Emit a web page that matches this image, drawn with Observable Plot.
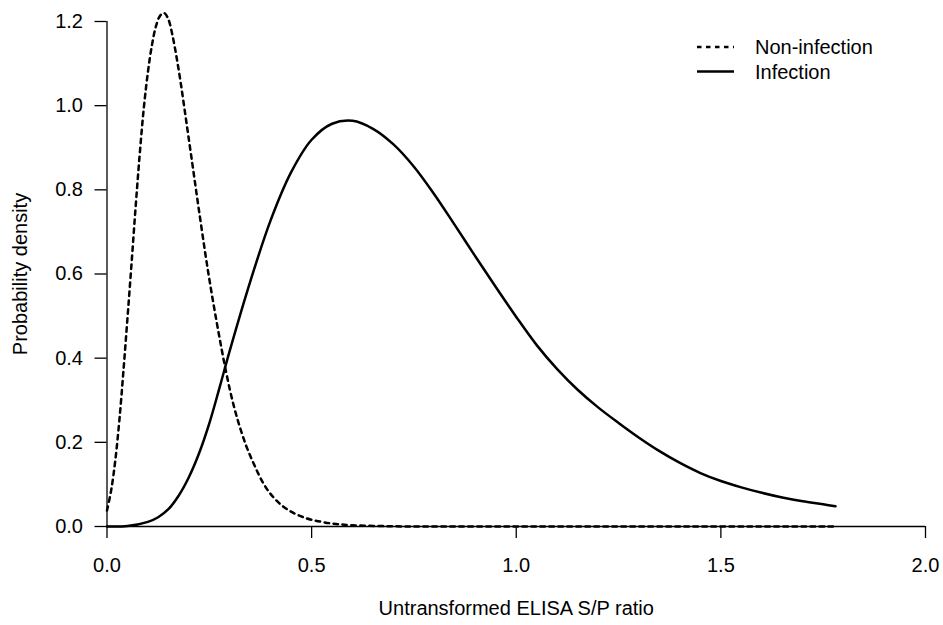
<!DOCTYPE html>
<html>
<head>
<meta charset="utf-8">
<script src="https://cdn.jsdelivr.net/npm/d3@7"></script>
<script src="https://cdn.jsdelivr.net/npm/@observablehq/plot@0.6"></script>
<style>
  body { margin: 0; background: #fff; }
  #wrap { position: relative; width: 943px; height: 625px; font-family: "Liberation Sans", Arial, Helvetica, sans-serif; }
  #legend { position: absolute; left: 0; top: 0; pointer-events: none; }
</style>
</head>
<body>
<div id="wrap"></div>
<script>
// ---- Data ----
const seriesNames = ["Non-infection", "Infection"];

const nonInfX = [0.00, 0.01, 0.02, 0.03, 0.04, 0.05, 0.06, 0.07, 0.08, 0.09, 0.10, 0.11, 0.12, 0.13, 0.14, 0.15, 0.16, 0.17, 0.18, 0.19, 0.20, 0.21, 0.22, 0.23, 0.24, 0.25, 0.26, 0.27, 0.28, 0.29, 0.30, 0.31, 0.32, 0.33, 0.34, 0.35, 0.36, 0.37, 0.38, 0.39, 0.40, 0.42, 0.44, 0.46, 0.48, 0.50, 0.55, 0.60, 0.70, 0.80, 1.00, 1.20, 1.40, 1.60, 1.78];
const nonInfY = [0.038, 0.085, 0.155, 0.250, 0.368, 0.495, 0.625, 0.760, 0.885, 0.995, 1.080, 1.145, 1.190, 1.214, 1.220, 1.205, 1.167, 1.115, 1.055, 0.988, 0.920, 0.852, 0.783, 0.716, 0.650, 0.588, 0.530, 0.475, 0.422, 0.372, 0.326, 0.286, 0.251, 0.220, 0.192, 0.168, 0.146, 0.125, 0.106, 0.090, 0.077, 0.056, 0.041, 0.030, 0.022, 0.016, 0.007, 0.003, 0.0005, 0.0, 0.0, 0.0, 0.0, 0.0, 0.0];

const infX = [0.00, 0.05, 0.10, 0.125, 0.15, 0.175, 0.20, 0.225, 0.25, 0.275, 0.30, 0.35, 0.40, 0.45, 0.50, 0.55, 0.60, 0.65, 0.70, 0.75, 0.80, 0.85, 0.90, 0.95, 1.00, 1.05, 1.10, 1.15, 1.20, 1.25, 1.30, 1.35, 1.40, 1.45, 1.50, 1.55, 1.60, 1.65, 1.70, 1.75, 1.78];
const infY = [0.000, 0.001, 0.011, 0.022, 0.041, 0.073, 0.117, 0.174, 0.245, 0.330, 0.418, 0.582, 0.728, 0.842, 0.919, 0.957, 0.964, 0.945, 0.908, 0.855, 0.789, 0.716, 0.642, 0.569, 0.498, 0.431, 0.374, 0.325, 0.283, 0.246, 0.211, 0.179, 0.151, 0.127, 0.108, 0.093, 0.080, 0.069, 0.060, 0.053, 0.048];

const xTicks = [0, 0.5, 1.0, 1.5, 2.0];
const yTicks = [0, 0.2, 0.4, 0.6, 0.8, 1.0, 1.2];
const xLabel = "Untransformed ELISA S/P ratio";
const yLabel = "Probability density";

// ---- Build tables ----
const nonInf = nonInfX.map((x, i) => ({x, y: nonInfY[i], s: seriesNames[0]}));
const inf = infX.map((x, i) => ({x, y: infY[i], s: seriesNames[1]}));
const xAxisLine = [{y: yTicks[0], x1: xTicks[0], x2: xTicks[xTicks.length - 1]}];
const yAxisLine = [{x: xTicks[0], y1: yTicks[0], y2: yTicks[yTicks.length - 1]}];

const dash = "4.5,4.5";
const lw = 2.5;
const fmt = d3.format(".1f");

const chart = Plot.plot({
  width: 943,
  height: 625,
  marginLeft: 106.5,
  marginRight: 18,
  marginTop: 21,
  marginBottom: 99,
  x: {domain: [xTicks[0], xTicks[xTicks.length - 1]]},
  y: {domain: [yTicks[0], yTicks[yTicks.length - 1]]},
  style: {fontFamily: "'Liberation Sans', Arial, Helvetica, sans-serif", fontSize: "20px", color: "#000", background: "#fff", overflow: "visible"},
  marks: [
    Plot.axisX({ticks: xTicks, tickSize: 12, tickPadding: 19, tickFormat: fmt, strokeWidth: 1.3,
      label: xLabel, labelAnchor: "center", labelOffset: 88, labelArrow: "none"}),
    Plot.axisY({ticks: yTicks, tickSize: 12, tickPadding: 12, tickFormat: fmt, strokeWidth: 1.3,
      label: yLabel, labelAnchor: "center", labelOffset: 94, labelArrow: "none"}),
    Plot.ruleY(xAxisLine, {y: "y", x1: "x1", x2: "x2", strokeWidth: 1.3}),
    Plot.ruleX(yAxisLine, {x: "x", y1: "y1", y2: "y2", strokeWidth: 1.3}),
    Plot.line(nonInf, {x: "x", y: "y", stroke: "#000", strokeWidth: lw, strokeDasharray: dash, curve: "catmull-rom"}),
    Plot.line(inf, {x: "x", y: "y", stroke: "#000", strokeWidth: lw, curve: "catmull-rom"})
  ]
});

const wrap = document.getElementById("wrap");
wrap.appendChild(chart);

// ---- Legend (top-right, inside plot area) ----
const legend = d3.select(wrap).append("svg")
  .attr("id", "legend")
  .attr("width", 943).attr("height", 625);
const legendStyles = [{dash: dash}, {dash: null}];
const rows = legend.selectAll("g").data(seriesNames).join("g")
  .attr("transform", (d, i) => `translate(697, ${47 + i * 24.5})`);
rows.append("line")
  .attr("x1", 0).attr("x2", 37).attr("y1", 0).attr("y2", 0)
  .attr("stroke", "#000").attr("stroke-width", lw)
  .attr("stroke-dasharray", (d, i) => legendStyles[i].dash);
rows.append("text")
  .attr("x", 58).attr("y", 0).attr("dy", "0.35em")
  .attr("font-family", "'Liberation Sans', Arial, Helvetica, sans-serif")
  .attr("font-size", 20)
  .attr("fill", "#000")
  .text(d => d);
</script>
</body>
</html>
